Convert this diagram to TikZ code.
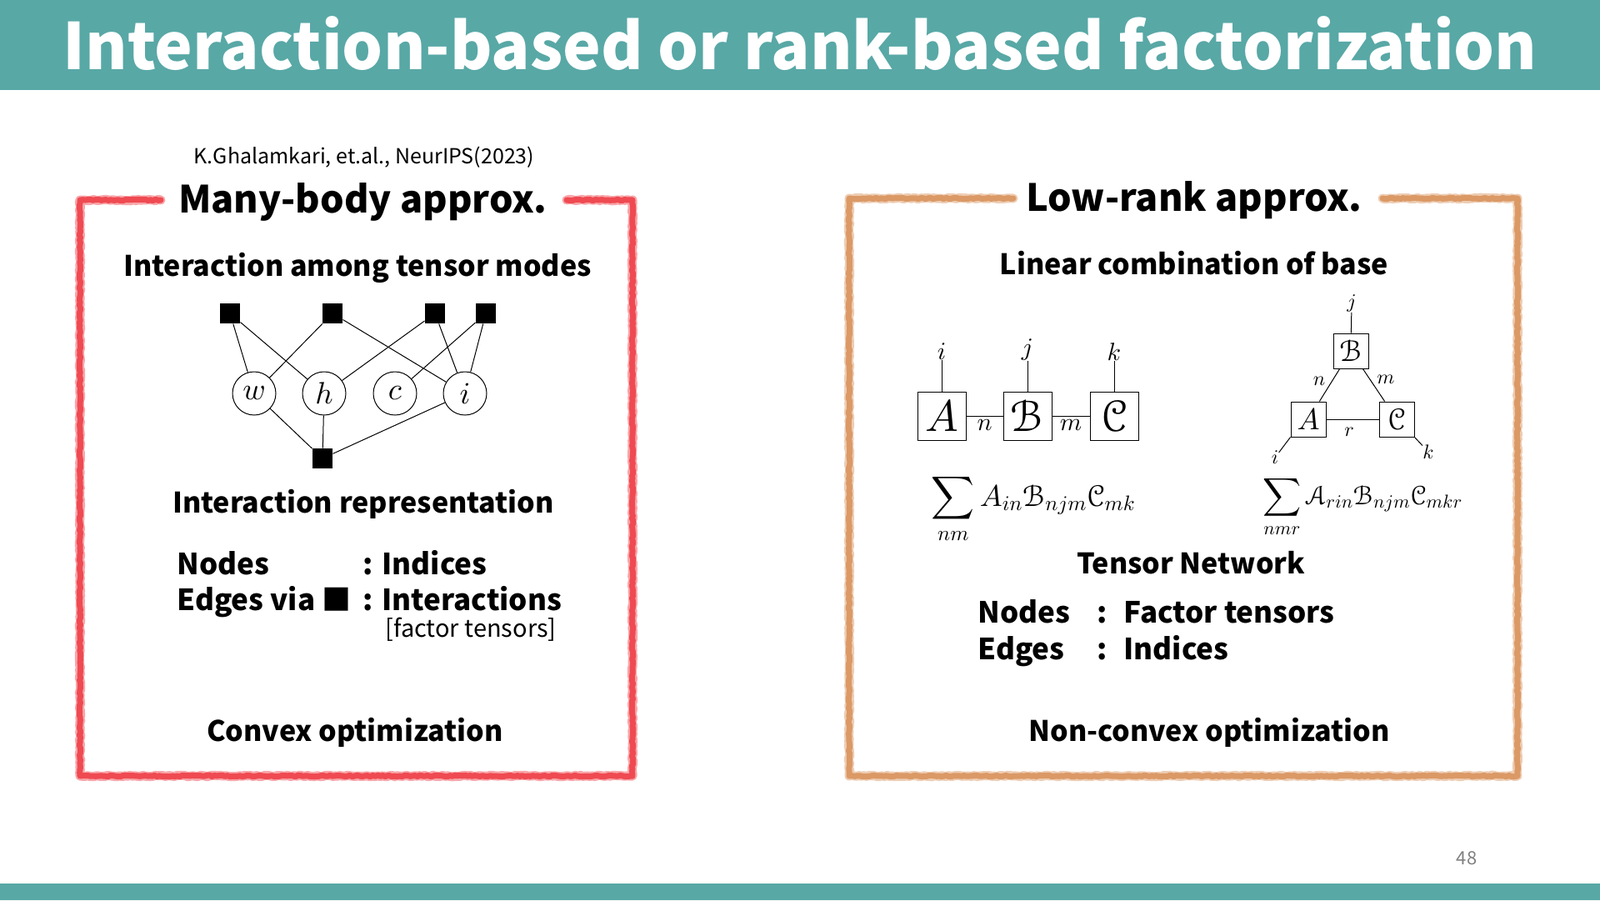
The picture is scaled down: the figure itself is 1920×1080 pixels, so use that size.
\documentclass[tikz,border=0pt]{standalone}
\usepackage{fontspec}
\usepackage[mathscr]{eucal}
\setmainfont{Noto Sans CJK JP}
% scalable math fonts
\DeclareFontShape{OML}{cmm}{m}{it}{<-> cmmi10}{}
\DeclareFontShape{OMS}{cmsy}{m}{n}{<-> cmsy10}{}
\DeclareFontShape{OMX}{cmex}{m}{n}{<-> cmex10}{}
\DeclareFontShape{OT1}{cmr}{m}{n}{<-> cmr10}{}
\DeclareFontFamily{U}{eus}{\skewchar\font'60}
\DeclareFontShape{U}{eus}{m}{n}{<-> eusm10}{}
\DeclareFontShape{U}{eus}{b}{n}{<-> eusb10}{}
\usetikzlibrary{positioning,decorations.pathmorphing}
\definecolor{barteal}{RGB}{88,168,166}
\definecolor{crayonred}{RGB}{238,58,66}
\definecolor{crayonorange}{RGB}{216,144,88}
\tikzset{
  crayon/.style={line width=#1, line join=round, line cap=round, decorate,
    decoration={random steps, segment length=3pt, amplitude=0.8pt}},
  factor/.style={fill=black, minimum size=24pt, inner sep=0pt},
  mode/.style={circle, draw, minimum size=52pt, inner sep=0pt, font=\fontsize{37}{37}\selectfont},
  tensor/.style={draw, line width=1pt, minimum size=58pt, inner sep=0pt, font=\fontsize{53}{53}\selectfont},
  smalltensor/.style={draw, line width=1pt, minimum size=42pt, inner sep=0pt, font=\fontsize{36}{36}\selectfont},
  idx/.style={inner sep=0pt, font=\fontsize{30}{30}\selectfont},
  smallidx/.style={inner sep=0pt, font=\fontsize{24}{24}\selectfont},
  head/.style={anchor=base, font=\fontsize{45}{45}\selectfont\bfseries},
  sub/.style={anchor=base, font=\fontsize{34}{34}\selectfont\bfseries},
  item/.style={anchor=base west, inner sep=0pt, font=\fontsize{35}{35}\selectfont\bfseries},
}
\begin{document}
\begin{tikzpicture}[x=1pt, y=1pt, line width=1pt]
\useasboundingbox (0,0) rectangle (1920,-1080);
% bars
\fill[barteal] (0,0) rectangle (1920,-108);
\fill[barteal] (0,-1060) rectangle (1920,-1080);
\node[anchor=base, text=white, font=\fontsize{77}{77}\selectfont\bfseries] (title) at (960,-83)
  {Interaction-based or rank-based factorization};
\node[anchor=base, text=black!50, font=\fontsize{22}{22}\selectfont] (page) at (1760,-1037) {48};

% frames
\foreach \w/\o in {11pt/0.45, 7pt/0.85} {
  \draw[crayon=\w, crayonred, opacity=\o] (193,-240) -- (96,-240) -- (96,-931) -- (759,-931) -- (759,-240) -- (680,-240);
  \draw[crayon=\w, crayonorange, opacity=\o] (1216,-238) -- (1019,-238) -- (1019,-931) -- (1821,-931) -- (1821,-238) -- (1659,-238);
}

% left: many-body
\node[anchor=base, font=\fontsize{25}{25}\selectfont] (cite) at (437,-196) {K.Ghalamkari, et.al., NeurIPS(2023)};
\node[head] (mbhead) at (435,-255) {Many-body approx.};
\node[sub] (mbsub) at (429,-331) {Interaction among tensor modes};

\node[factor] (f1) at (276,-376) {};
\node[factor] (f2) at (399,-376) {};
\node[factor] (f3) at (522,-376) {};
\node[factor] (f4) at (583,-376) {};
\node[mode] (w) at (305,-472) {$w$};
\node[mode] (h) at (389,-472) {$h$};
\node[mode] (c) at (474,-472) {$c$};
\node[mode] (i) at (558,-472) {$i$};
\node[factor] (f0) at (387,-550) {};
\draw (f1) -- (w);
\draw (f1) -- (h);
\draw (f2) -- (w);
\draw (f2) -- (i);
\draw (f3) -- (h);
\draw (f3) -- (i);
\draw (f4) -- (c);
\draw (f4) -- (i);
\draw (f0) -- (w);
\draw (f0) -- (h);
\draw (f0) -- (i);

\node[sub] (mbrep) at (436,-615) {Interaction representation};
\node[item] (n1) at (212,-689) {Nodes};
\node[item] (n1v) at (435,-689) {: Indices};
\node[item] (e1) at (212,-732) {Edges via ■};
\node[item] (e1v) at (435,-732) {: Interactions};
\node[item, font=\fontsize{29}{29}\selectfont] (e1f) at (462,-764) {[factor tensors]};
\node[sub] (mbopt) at (426,-889) {Convex optimization};

% right: low-rank
\node[head] (lrhead) at (1433,-253) {Low-rank approx.};
\node[sub] (lrsub) at (1433,-329) {Linear combination of base};

% chain
\node[tensor] (cA) at (1130,-499) {$A$};
\node[tensor] (cB) at (1233,-499) {$\mathscr{B}$};
\node[tensor] (cC) at (1337,-499) {$\mathscr{C}$};
\node[idx] (ci) at (1130,-422) {$i$};
\node[idx] (cj) at (1233,-420) {$j$};
\node[idx] (ck) at (1337,-422) {$k$};
\draw (cA) -- (ci);
\draw (cB) -- (cj);
\draw (cC) -- (ck);
\draw (cA) -- node[idx, below=4pt] {$n$} (cB);
\draw (cB) -- node[idx, below=4pt] {$m$} (cC);
\node[anchor=base, font=\fontsize{36}{36}\selectfont] (csum) at (1240,-607)
  {$\displaystyle\sum_{nm} A_{in}\mathscr{B}_{njm}\mathscr{C}_{mk}$};

% triangle
\node[smalltensor] (tB) at (1621,-421) {$\mathscr{B}$};
\node[smalltensor] (tA) at (1570,-503) {$A$};
\node[smalltensor] (tC) at (1676,-503) {$\mathscr{C}$};
\node[smallidx] (tj) at (1622,-364) {$j$};
\node[smallidx] (ti) at (1530,-549) {$i$};
\node[smallidx] (tk) at (1714,-542) {$k$};
\draw (tB) -- (tj);
\draw (tA.south west) -- (ti);
\draw (tC.south east) -- (tk);
\draw (tB) -- (tA);
\draw (tB) -- (tC);
\draw (tA) -- (tC);
\node[smallidx] (tn) at (1583,-457) {$n$};
\node[smallidx] (tm) at (1663,-455) {$m$};
\node[smallidx] (tr) at (1619,-518) {$r$};
\node[anchor=base, font=\fontsize{32}{32}\selectfont] (tsum) at (1635,-605)
  {$\displaystyle\sum_{nmr} \mathscr{A}_{rin}\mathscr{B}_{njm}\mathscr{C}_{mkr}$};

\node[sub] (tnet) at (1429,-688) {Tensor Network};
\node[item] (n2) at (1173,-747) {Nodes};
\node[item] (n2c) at (1316,-747) {:};
\node[item] (n2v) at (1348,-747) {Factor tensors};
\node[item] (e2) at (1173,-791) {Edges};
\node[item] (e2c) at (1316,-791) {:};
\node[item] (e2v) at (1348,-791) {Indices};
\node[sub] (lropt) at (1451,-889) {Non-convex optimization};
\end{tikzpicture}
\end{document}
